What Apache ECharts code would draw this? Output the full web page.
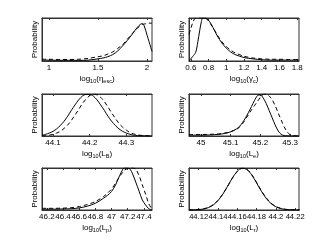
<!DOCTYPE html>
<html><head><meta charset="utf-8">
<script src="https://cdn.jsdelivr.net/npm/echarts@6/dist/echarts.min.js"></script>
<style>html,body{margin:0;padding:0;background:#fff}#c{width:332px;height:250px}</style>
</head><body><div id="c"></div>
<script>
// ---- Panel 1: log10(eta_esc)
const etaX = [0.93,1.0,1.1,1.2,1.3,1.4,1.5,1.55,1.6,1.65,1.7,1.75,1.8,1.85,1.9,1.93,1.95,1.97,2.0,2.02,2.05];
const etaSolid = [0.02,0.02,0.015,0.015,0.015,0.02,0.05,0.07,0.1,0.15,0.23,0.35,0.48,0.63,0.78,0.85,0.87,0.82,0.6,0.45,0.22];
const etaDashed = [0.04,0.04,0.035,0.035,0.04,0.06,0.1,0.12,0.16,0.21,0.29,0.38,0.51,0.64,0.76,0.82,0.85,0.86,0.87,0.88,0.88];
const etaTicks = [1,1.5,2];
// ---- Panel 2: log10(gamma_c)
const gamX = [0.58,0.6,0.62,0.655,0.68,0.7,0.72,0.735,0.76,0.8,0.85,0.9,0.95,1.0,1.05,1.1,1.2,1.3,1.4,1.5,1.6,1.7,1.82];
const gamSolid = [0.0,0.05,0.1,0.2,0.45,0.7,0.92,1.0,1.0,0.95,0.78,0.58,0.42,0.3,0.21,0.15,0.08,0.05,0.03,0.02,0.02,0.02,0.02];
const gamDashed = [0.62,0.75,0.88,1.0,1.0,1.0,1.0,1.0,1.0,0.93,0.78,0.6,0.45,0.34,0.25,0.19,0.11,0.07,0.05,0.04,0.04,0.035,0.035];
const gamTicks = [0.6,0.8,1,1.2,1.4,1.6,1.8];
// ---- Panel 3: log10(L_B)
const lbX = [44.07,44.08,44.09,44.1,44.11,44.12,44.13,44.14,44.15,44.16,44.17,44.18,44.19,44.2,44.21,44.22,44.23,44.24,44.25,44.26,44.27,44.28,44.29,44.3,44.31,44.32,44.33,44.34,44.35,44.36,44.37];
const lbSolid = [0.02,0.04,0.07,0.11,0.17,0.25,0.35,0.47,0.61,0.74,0.86,0.95,0.99,0.99,0.95,0.86,0.74,0.61,0.47,0.35,0.25,0.17,0.11,0.07,0.04,0.02,0.01,0.005,0.003,0.002,0.001];
const lbDashed = [0.005,0.01,0.02,0.04,0.07,0.11,0.18,0.26,0.37,0.5,0.63,0.77,0.88,0.96,1.0,0.98,0.92,0.82,0.69,0.55,0.42,0.3,0.21,0.14,0.08,0.05,0.03,0.015,0.007,0.004,0.002];
const lbTicks = [44.1,44.2,44.3];
// ---- Panel 4: log10(L_e)
const leX = [44.96,45.0,45.03,45.06,45.08,45.1,45.12,45.13,45.14,45.15,45.16,45.17,45.18,45.19,45.2,45.21,45.22,45.23,45.24,45.25,45.26,45.27,45.28,45.29,45.3,45.31,45.33];
const leSolid = [0.02,0.02,0.025,0.04,0.06,0.1,0.17,0.23,0.32,0.43,0.56,0.7,0.84,0.96,0.98,0.9,0.77,0.6,0.43,0.26,0.12,0.04,0.01,0.005,0.0,0.0,0.0];
const leDashed = [0.035,0.035,0.04,0.05,0.07,0.1,0.16,0.21,0.29,0.4,0.51,0.62,0.72,0.82,0.92,0.99,1.0,0.95,0.86,0.72,0.55,0.38,0.22,0.1,0.03,0.01,0.0];
const leTicks = [45,45.1,45.2,45.3];
// ---- Panel 5: log10(L_p)
const lpX = [46.14,46.2,46.3,46.4,46.5,46.6,46.7,46.8,46.9,46.95,47.0,47.05,47.1,47.14,47.16,47.2,47.23,47.26,47.3,47.34,47.38,47.42,47.46,47.5];
const lpSolid = [0.02,0.02,0.02,0.025,0.03,0.05,0.09,0.16,0.28,0.35,0.44,0.6,0.82,0.97,1.0,1.0,0.97,0.86,0.66,0.45,0.24,0.12,0.03,0.0];
const lpDashed = [0.04,0.04,0.04,0.045,0.055,0.08,0.13,0.2,0.32,0.4,0.5,0.64,0.8,0.9,0.95,0.99,1.0,1.0,0.97,0.82,0.6,0.38,0.15,0.02];
const lpTicks = [46.2,46.4,46.6,46.8,47,47.2,47.4];
// ---- Panel 6: log10(L_r)
const lrX = [44.11,44.115,44.12,44.125,44.13,44.135,44.14,44.145,44.15,44.155,44.16,44.165,44.17,44.175,44.18,44.185,44.19,44.195,44.2,44.205,44.21,44.215,44.22,44.225];
const lrSolid = [0.001,0.003,0.009,0.024,0.056,0.118,0.223,0.375,0.566,0.764,0.923,0.998,0.965,0.835,0.647,0.448,0.278,0.154,0.077,0.034,0.014,0.005,0.002,0.001];
const lrDashed = [0.002,0.005,0.012,0.028,0.062,0.125,0.23,0.38,0.565,0.76,0.915,0.99,0.97,0.845,0.66,0.46,0.29,0.165,0.085,0.04,0.017,0.007,0.003,0.001];
const lrTicks = [44.12,44.14,44.16,44.18,44.2,44.22];

const yName = 'Probability';

const panels = [
  {x: etaX, s: etaSolid, d: etaDashed, ticks: etaTicks, min: 0.93, max: 2.05, name: '{m|log}{s|10}{m|(η}{s|esc}{m|)}', left: 42, top: 18, h: 43, fs: 8},
  {x: gamX, s: gamSolid, d: gamDashed, ticks: gamTicks, min: 0.58, max: 1.82, name: '{m|log}{s|10}{m|(γ}{s|c}{m|)}', left: 189, top: 18, h: 43, fs: 8},
  {x: lbX, s: lbSolid, d: lbDashed, ticks: lbTicks, min: 44.07, max: 44.37, name: '{m|log}{s|10}{m|(L}{s|B}{m|)}', left: 42, top: 94, h: 42, fs: 8},
  {x: leX, s: leSolid, d: leDashed, ticks: leTicks, min: 44.96, max: 45.33, name: '{m|log}{s|10}{m|(L}{s|e}{m|)}', left: 189, top: 94, h: 42, fs: 8},
  {x: lpX, s: lpSolid, d: lpDashed, ticks: lpTicks, min: 46.14, max: 47.5, name: '{m|log}{s|10}{m|(L}{s|p}{m|)}', left: 42, top: 168, h: 42, fs: 8},
  {x: lrX, s: lrSolid, d: lrDashed, ticks: lrTicks, min: 44.11, max: 44.224, name: '{m|log}{s|10}{m|(L}{s|r}{m|)}', left: 189, top: 168, h: 42, fs: 7.6}
];

const FONT = 'Liberation Sans';
const frame = '#333';
const grid = [], xAxis = [], yAxis = [], series = [];
panels.forEach((p, i) => {
  grid.push({left: p.left, top: p.top, width: 110, height: p.h, show: true, borderColor: frame, borderWidth: 1, backgroundColor: 'transparent'});
  xAxis.push({
    type: 'value', gridIndex: i, min: p.min, max: p.max, position: 'bottom',
    name: p.name, nameLocation: 'middle', nameGap: 12,
    nameTextStyle: {color: '#000', fontFamily: FONT, rich: {
      m: {fontSize: 8, fontFamily: FONT, color: '#000', lineHeight: 10, verticalAlign: 'top'},
      s: {fontSize: 5.5, fontFamily: FONT, color: '#000', lineHeight: 6, padding: [6,0,0,0], verticalAlign: 'bottom'}
    }},
    axisLine: {show: true, onZero: false, lineStyle: {color: frame, width: 1}},
    axisTick: {show: true, inside: true, length: 2, customValues: p.ticks, lineStyle: {color: frame}},
    axisLabel: {show: true, customValues: p.ticks, showMinLabel: true, showMaxLabel: true, hideOverlap: false,
      margin: 3, fontSize: p.fs, fontFamily: FONT, color: '#000'},
    splitLine: {show: false}
  });
  xAxis.push({
    type: 'value', gridIndex: i, min: p.min, max: p.max, position: 'top',
    axisLine: {show: true, onZero: false, lineStyle: {color: frame, width: 1}},
    axisTick: {show: true, inside: true, length: 2, customValues: p.ticks, lineStyle: {color: frame}},
    axisLabel: {show: false}, splitLine: {show: false}
  });
  yAxis.push({
    type: 'value', gridIndex: i, min: 0, max: 1,
    name: yName, nameLocation: 'middle', nameGap: 3,
    nameTextStyle: {fontSize: 8, fontFamily: FONT, color: '#000'},
    axisLine: {show: true, lineStyle: {color: frame, width: 1}},
    axisTick: {show: false}, axisLabel: {show: false}, splitLine: {show: false}
  });
  const solid = p.x.map((v, k) => [v, p.s[k]]);
  const dashed = p.x.map((v, k) => [v, p.d[k]]);
  series.push({type: 'line', xAxisIndex: 2 * i, yAxisIndex: i, data: dashed, showSymbol: false, silent: true, animation: false,
    lineStyle: {color: '#000', width: 1, type: [4, 3]}, smooth: 0.3});
  series.push({type: 'line', xAxisIndex: 2 * i, yAxisIndex: i, data: solid, showSymbol: false, silent: true, animation: false,
    lineStyle: {color: '#000', width: 1}, smooth: 0.3});
});

const chart = echarts.init(document.getElementById('c'), null, {renderer: 'canvas'});
chart.setOption({animation: false, backgroundColor: '#fff', grid, xAxis, yAxis, series});
</script>
</body></html>
